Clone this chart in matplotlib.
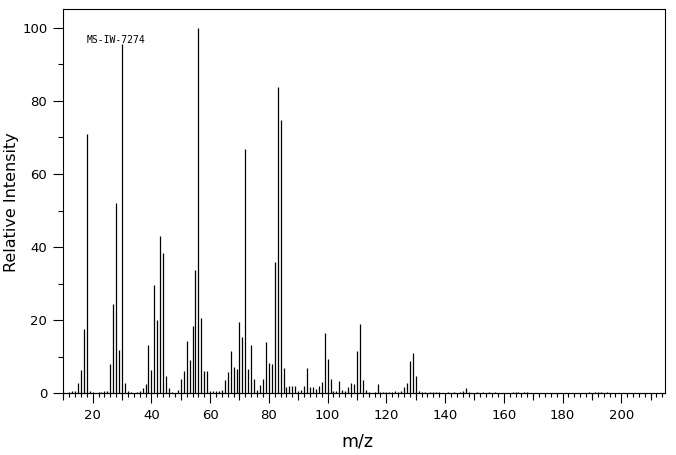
import matplotlib
matplotlib.use("Agg")
import matplotlib.pyplot as plt
from matplotlib.ticker import MultipleLocator, FixedLocator, NullFormatter

# m/z values and relative intensities
mz = [12, 13, 14, 15, 16, 17, 18, 19, 20, 22, 23, 24, 25, 26, 27, 28, 29, 30,
      31, 32, 33, 35, 36, 37, 38, 39, 40, 41, 42, 43, 44, 45, 46, 47, 49, 50,
      51, 52, 53, 54, 55, 56, 57, 58, 59, 60, 61, 62, 63, 64, 65, 66, 67, 68,
      69, 70, 71, 72, 73, 74, 75, 76, 77, 78, 79, 80, 81, 82, 83, 84, 85, 86,
      87, 88, 89, 90, 91, 92, 93, 94, 95, 96, 97, 98, 99, 100, 101, 102, 103,
      104, 105, 106, 107, 108, 109, 110, 111, 112, 113, 114, 116, 117, 118,
      119, 120, 121, 122, 123, 124, 125, 126, 127, 128, 129, 130, 131, 132,
      133, 135, 136, 137, 138, 141, 143, 145, 146, 147, 148, 151, 153, 155,
      157, 163, 164, 165, 167, 168, 189, 191, 192, 193, 195]
intensity = [0.3, 0.5, 0.6, 2.7, 6.4, 17.6, 70.9, 0.5, 0.3, 0.3, 0.3, 0.5, 0.7,
             8.0, 24.4, 52.1, 11.9, 95.5, 2.7, 0.5, 0.3, 0.3, 0.5, 1.4, 2.6,
             13.2, 6.4, 29.6, 20.1, 43.1, 38.4, 4.6, 1.4, 0.3, 0.9, 3.9, 6.1,
             14.3, 9.1, 18.4, 33.7, 100.0, 20.5, 6.1, 6.1, 0.5, 0.5, 0.5, 0.6,
             0.9, 3.6, 5.7, 11.6, 7.3, 6.7, 19.5, 15.4, 66.8, 6.7, 13.2, 3.9,
             0.9, 2.3, 3.9, 14.0, 8.2, 8.0, 35.9, 83.8, 74.8, 6.9, 1.7, 2.0,
             2.0, 2.0, 0.5, 0.9, 2.0, 6.9, 1.7, 1.7, 1.2, 2.0, 3.1, 16.5, 9.4,
             3.9, 0.6, 0.6, 3.3, 0.9, 0.6, 1.8, 2.8, 2.6, 11.6, 19.0, 3.6, 0.9,
             0.4, 0.3, 2.6, 0.4, 0.4, 0.4, 0.3, 0.4, 0.5, 0.3, 0.6, 1.7, 2.8,
             8.8, 11.0, 4.7, 0.6, 0.4, 0.3, 0.4, 0.3, 0.3, 0.4, 0.3, 0.4, 0.3,
             0.6, 1.5, 0.4, 0.4, 0.3, 0.3, 0.3, 0.3, 0.3, 0.3, 0.3, 0.3, 0.3,
             0.3, 0.3, 0.3, 0.3]

x_major = [20, 40, 60, 80, 100, 120, 140, 160, 180, 200]
x_medium = [10, 30, 50, 70, 90, 110, 130, 150, 170, 190, 210]
y_major = [0, 20, 40, 60, 80, 100]
y_minor = [10, 30, 50, 70, 90]

W, H = 676, 455
left, right, top, bottom = 63.3, 665.3, 9.5, 393.3

fig = plt.figure(figsize=(W / 100, H / 100), dpi=100)
ax = fig.add_axes([left / W, 1 - bottom / H, (right - left) / W, (bottom - top) / H])

ax.vlines(mz, 0, intensity, colors="black", linewidth=0.9)

ax.set_xlim(10, 215)
ax.set_ylim(0, 105)

for s in ax.spines.values():
    s.set_linewidth(0.8)
    s.set_color("black")

ax.xaxis.set_major_locator(FixedLocator(x_major))
ax.xaxis.set_minor_locator(MultipleLocator(2))
ax.yaxis.set_major_locator(FixedLocator(y_major))
ax.yaxis.set_minor_locator(FixedLocator(y_minor))

ax.tick_params(axis="x", which="major", length=7.5, width=0.8, direction="out",
               labelsize=9.5, pad=4)
ax.tick_params(axis="x", which="minor", length=3.2, width=0.8, direction="out")
ax.tick_params(axis="y", which="major", length=7.5, width=0.8, direction="out",
               labelsize=9.5, pad=4)
ax.tick_params(axis="y", which="minor", length=3.6, width=0.8, direction="out")

sec = ax.secondary_xaxis("bottom")
sec.set_xticks(x_medium)
sec.xaxis.set_major_formatter(NullFormatter())
sec.tick_params(axis="x", length=5.2, width=0.8, direction="out")
sec.spines["bottom"].set_linewidth(0.8)

fig.text(357 / W, 1 - 442 / H, "m/z", fontsize=12.5, ha="center", va="center")
fig.text(11.5 / W, 1 - 202 / H, "Relative Intensity", fontsize=11.5,
         rotation=90, ha="center", va="center")

ax.text(0.038, 0.921, "MS-IW-7274", transform=ax.transAxes,
        family="DejaVu Sans Mono", fontsize=7, va="center", ha="left")

fig.savefig("out.png", dpi=100)
